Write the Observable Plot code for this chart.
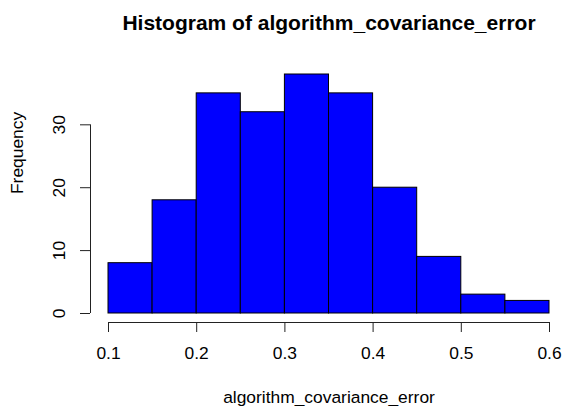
<!DOCTYPE html>
<html>
<head>
<meta charset="utf-8">
<script src="https://cdn.jsdelivr.net/npm/d3@7"></script>
<script src="https://cdn.jsdelivr.net/npm/@observablehq/plot@0.6"></script>
<style>
  html, body { margin: 0; padding: 0; background: white; }
</style>
</head>
<body>
<div id="chart"></div>
<script>
const breaks = [0.1, 0.15, 0.2, 0.25, 0.3, 0.35, 0.4, 0.45, 0.5, 0.55, 0.6];
const counts = [8, 18, 35, 32, 38, 35, 20, 9, 3, 2];
const xTicks = [0.1, 0.2, 0.3, 0.4, 0.5, 0.6];
const yTicks = [0, 10, 20, 30];
const title = "Histogram of algorithm_covariance_error";
const xLabel = "algorithm_covariance_error";
const yLabel = "Frequency";

const bins = counts.map((c, i) => ({x1: breaks[i], x2: breaks[i + 1], y: c}));

const chart = Plot.plot({
  width: 563,
  height: 406,
  marginLeft: 108,
  marginRight: 14,
  marginTop: 74,
  marginBottom: 93,
  style: {fontFamily: "'Liberation Sans', Arial, Helvetica, sans-serif", fontSize: "17.4px", background: "white", color: "black"},
  x: {domain: [breaks[0], breaks[breaks.length - 1]]},
  y: {domain: [0, d3.max(counts)]},
  marks: [
    Plot.rectY(bins, {x1: "x1", x2: "x2", y1: 0, y2: "y", fill: "#0000ff", stroke: "black", strokeWidth: 1}),
    // x axis
    Plot.ruleY([0], {x1: xTicks[0], x2: xTicks[xTicks.length - 1], dy: 9, stroke: "#222"}),
    Plot.axisX({ticks: xTicks, tickSize: 10, dy: 9, tickPadding: 14, tickFormat: d3.format(".1f"), label: null, stroke: "#222"}),
    // y axis
    Plot.ruleX([breaks[0]], {x: d => d, y1: yTicks[0], y2: yTicks[yTicks.length - 1], dx: -18, stroke: "#222"}),
    Plot.axisY({ticks: yTicks, tickSize: 10, dx: -18, tickPadding: 21, tickRotate: -90, textAnchor: "middle", lineAnchor: "middle", label: null, stroke: "#222"}),
    // labels
    Plot.text([title], {frameAnchor: "top", dy: -51, lineAnchor: "middle", fontWeight: "bold", fontSize: 21}),
    Plot.text([xLabel], {frameAnchor: "bottom", dy: 84, lineAnchor: "middle"}),
    Plot.text([yLabel], {frameAnchor: "left", dx: -91, rotate: -90, lineAnchor: "middle"})
  ]
});
document.getElementById("chart").appendChild(chart);
</script>
</body>
</html>
